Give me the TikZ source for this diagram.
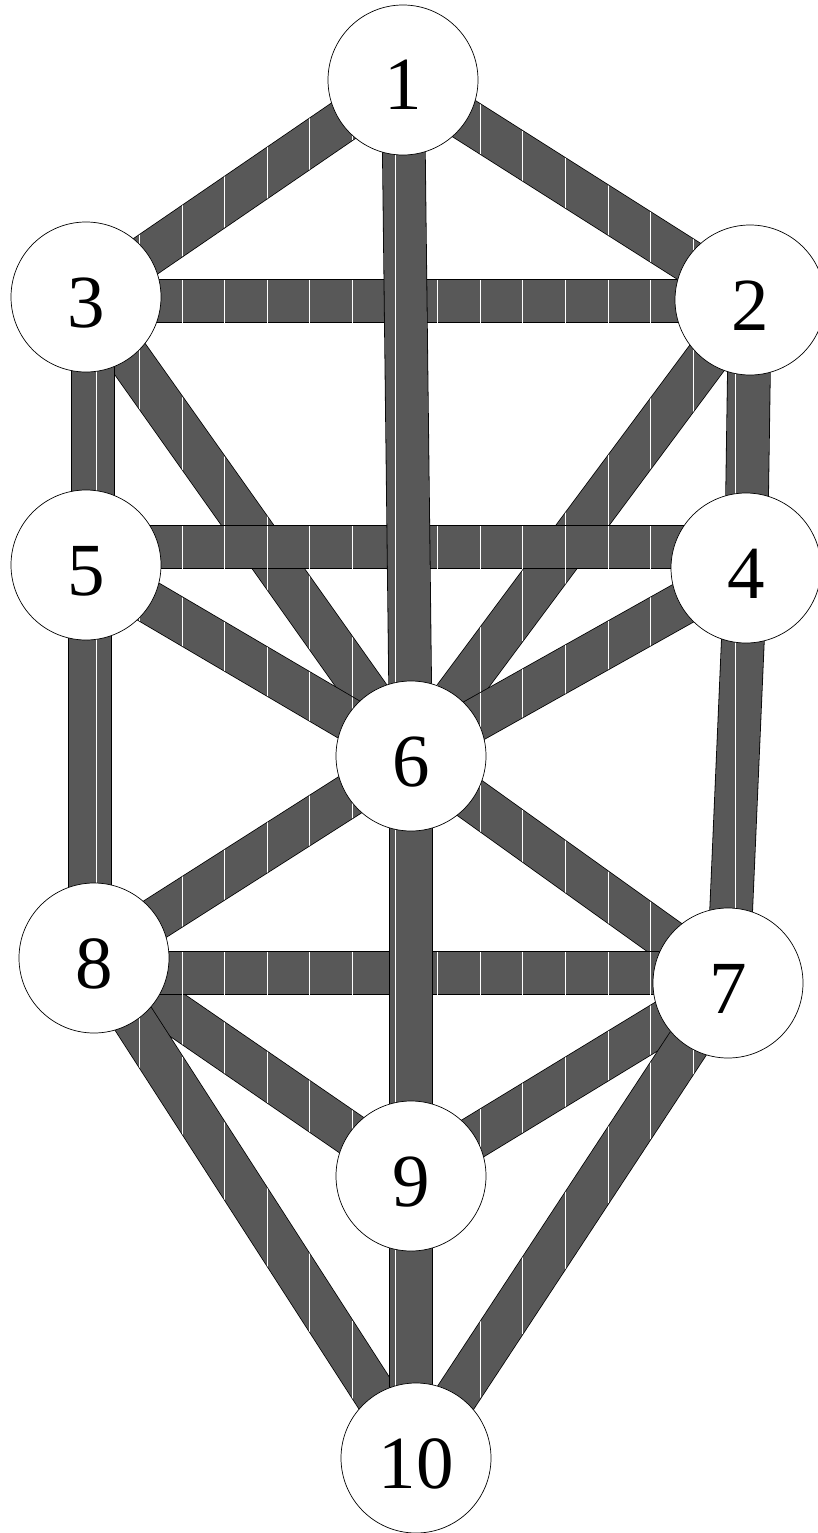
\documentclass[tikz,border=0pt]{standalone}
\usepackage{fontspec}
\setmainfont{Liberation Serif}
\usetikzlibrary{backgrounds,calc}
\definecolor{bandgray}{RGB}{88,88,88}
\newcommand\tolband[2]{%
  \draw[band] (#1) -- (#2);
  \begin{scope}
    \clip ($(#1)!21pt!90:(#2)$) -- ($(#1)!21pt!-90:(#2)$) -- ($(#2)!21pt!90:(#1)$) -- ($(#2)!21pt!-90:(#1)$) -- cycle;
    \foreach \k in {-9,...,9} \draw[streak] (395+\k*42.6,0) -- (395+\k*42.6,1533);
  \end{scope}}
\begin{document}
\begin{tikzpicture}[x=1pt,y=-1pt,
  sefira/.style={circle,draw=black,line width=0.7pt,fill=white,minimum size=150pt,inner sep=0pt,
    font=\fontsize{75}{75}\selectfont,text height=60pt,text depth=0pt},
  band/.style={draw=black,line width=0.8pt,double=bandgray,double distance=42pt},
  streak/.style={draw=white,line width=1pt}]
\useasboundingbox (0,0) rectangle (817,1533);
\node[sefira] (n1) at (403,80) {1};
\node[sefira] (n2) at (750,300) {2};
\node[sefira] (n3) at (86,297) {3};
\node[sefira] (n4) at (746,568) {4};
\node[sefira] (n5) at (86,565) {5};
\node[sefira] (n6) at (411,756) {6};
\node[sefira] (n7) at (728,983) {7};
\node[sefira] (n8) at (94,958) {8};
\node[sefira] (n9) at (411,1176) {9};
\node[sefira] (n10) at (416,1458) {10};
\coordinate (h32a) at ([yshift=-4pt]n3.center);
\coordinate (h32b) at ([yshift=-1pt]n2.center);
\coordinate (h54a) at ([yshift=18pt]n5.center);
\coordinate (h54b) at ([yshift=21pt]n4.center);
\coordinate (v35a) at ([xshift=7pt]n3.center);
\coordinate (v35b) at ([xshift=7pt]n5.center);
\coordinate (v58a) at ([xshift=4pt]n5.center);
\coordinate (v58b) at ([xshift=-4pt]n8.center);
\coordinate (h87a) at ([yshift=-15pt]n8.center);
\coordinate (h87b) at ([yshift=10pt]n7.center);
\coordinate (v910) at ([xshift=-5pt]n10.center);
\begin{scope}[on background layer]
\tolband{n1.center}{n3.center}
\tolband{n1.center}{n2.center}
\tolband{n3.center}{n6.center}
\tolband{n2.center}{n6.center}
\tolband{n5.center}{n6.center}
\tolband{n4.center}{n6.center}
\tolband{h32a}{h32b}
\tolband{h54a}{h54b}
\tolband{n1.center}{n6.center}
\tolband{v35a}{v35b}
\tolband{v58a}{v58b}
\tolband{n2.center}{n4.center}
\tolband{n4.center}{n7.center}
\tolband{n6.center}{n8.center}
\tolband{n6.center}{n7.center}
\tolband{n8.center}{n9.center}
\tolband{n7.center}{n9.center}
\tolband{n8.center}{n10.center}
\tolband{n7.center}{n10.center}
\tolband{h87a}{h87b}
\tolband{n6.center}{n9.center}
\tolband{n9.center}{v910}
\end{scope}
\end{tikzpicture}
\end{document}
